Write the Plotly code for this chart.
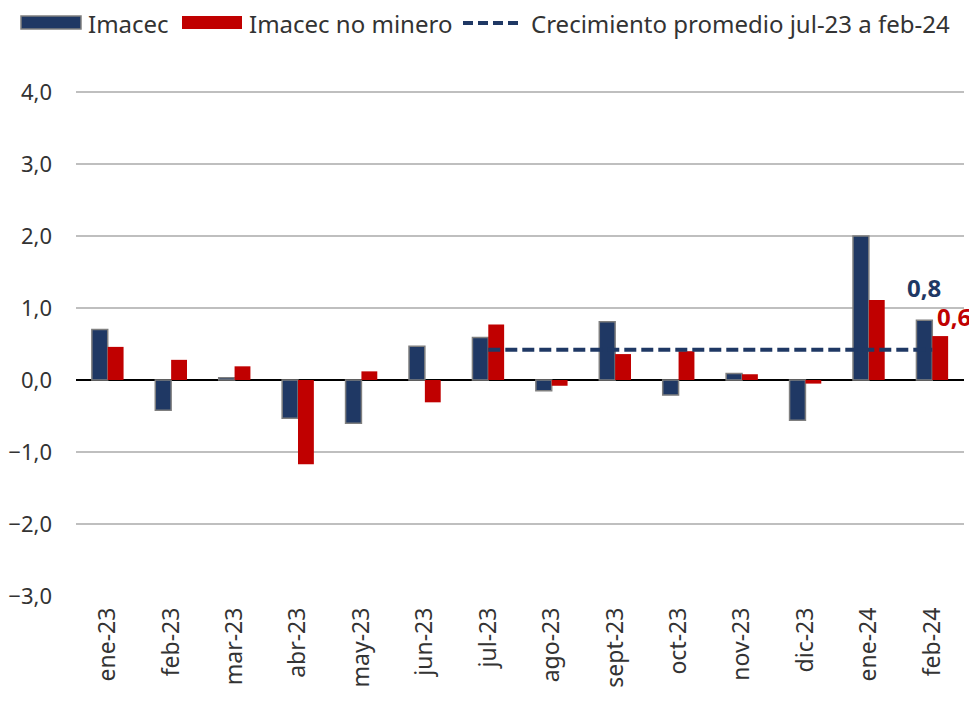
import plotly.graph_objects as go

categories = ["ene-23", "feb-23", "mar-23", "abr-23", "may-23", "jun-23", "jul-23",
              "ago-23", "sept-23", "oct-23", "nov-23", "dic-23", "ene-24", "feb-24"]
imacec = [0.70, -0.42, 0.03, -0.53, -0.60, 0.47, 0.59, -0.15, 0.81, -0.21, 0.09, -0.56, 2.00, 0.83]
imacec_no_minero = [0.46, 0.28, 0.19, -1.17, 0.12, -0.31, 0.77, -0.08, 0.36, 0.40, 0.08, -0.05, 1.11, 0.61]
avg_categories = ["jul-23", "ago-23", "sept-23", "oct-23", "nov-23", "dic-23", "ene-24", "feb-24"]
avg_values = [0.42, 0.42, 0.42, 0.42, 0.42, 0.42, 0.42, 0.42]
series_names = ["Imacec", "Imacec no minero", "Crecimiento promedio jul-23 a feb-24"]
y_ticks = [-3, -2, -1, 0, 1, 2, 3, 4]

NAVY = "#1F3864"
RED = "#C00000"
TEXT = "#333333"
FONT = "Noto Sans"

# the page body has an 8px margin; the figure sits at (8, 8)
OFF = 8
W, H = 977, 702
L, R, T, B = 68, 21, 48, 114
PW, PH = W - L - R, H - T - B


def px(xp):
    return (xp - OFF - L) / PW


def py(yp):
    return (H - B - (yp - OFF)) / PH


fig = go.Figure()
fig.add_trace(go.Bar(x=categories, y=imacec, name=series_names[0],
                     marker=dict(color=NAVY, line=dict(color="#7F7F7F", width=1.5))))
fig.add_trace(go.Bar(x=categories, y=imacec_no_minero, name=series_names[1],
                     marker=dict(color=RED, line=dict(width=0))))
fig.add_trace(go.Scatter(x=avg_categories, y=avg_values, mode="lines",
                         name=series_names[2],
                         line=dict(color=NAVY, width=4, dash="12px,5px")))

# value labels for the last month
fig.add_annotation(x=categories[-1], y=imacec[-1], xref="x", yref="y",
                   text=f"{imacec[-1]:.1f}".replace(".", ","), showarrow=False,
                   xshift=-8, yshift=33,
                   font=dict(family=FONT, size=24, color=NAVY, weight="bold"))
fig.add_annotation(x=categories[-1], y=imacec_no_minero[-1], xref="x", yref="y",
                   text=f"{imacec_no_minero[-1]:.1f}".replace(".", ","), showarrow=False,
                   xshift=22, yshift=20,
                   font=dict(family=FONT, size=24, color=RED, weight="bold"))

# legend drawn manually (wide swatches like the original)
shapes = [
    dict(type="rect", xref="paper", yref="paper", x0=px(21), x1=px(81), y0=py(29), y1=py(16),
         fillcolor=NAVY, line=dict(color="#7F7F7F", width=1.5)),
    dict(type="rect", xref="paper", yref="paper", x0=px(182), x1=px(242), y0=py(29), y1=py(16),
         fillcolor=RED, line=dict(width=0)),
    dict(type="line", xref="paper", yref="paper", x0=px(463), x1=px(522), y0=py(23), y1=py(23),
         line=dict(color=NAVY, width=4, dash="10px,5px")),
]
legend_text_x = [87, 248, 530]
for name, xp in zip(series_names, legend_text_x):
    fig.add_annotation(x=px(xp), y=py(24), xref="paper", yref="paper", xanchor="left",
                       yanchor="middle", text=name, showarrow=False, borderpad=0,
                       font=dict(family=FONT, size=24, color=TEXT))

fig.update_layout(
    width=W, height=H,
    margin=dict(l=L, r=R, t=T, b=B),
    paper_bgcolor="white", plot_bgcolor="white",
    separators=",.",
    barmode="group", bargap=0.5, bargroupgap=0,
    font=dict(family=FONT, size=20, color=TEXT),
    showlegend=False,
    shapes=shapes,
)

fig.update_xaxes(type="category", range=[-0.5, len(categories) - 0.5],
                 tickangle=-90, showgrid=False, showline=False,
                 ticks="", automargin=False, ticklabelstandoff=6,
                 tickfont=dict(family=FONT, size=23, color=TEXT))
fig.update_yaxes(range=[-3, 4.5], tickvals=y_ticks, tickformat=".1f",
                 showgrid=True, gridcolor="#BFBFBF", gridwidth=1.5,
                 zeroline=True, zerolinecolor="black", zerolinewidth=1.5,
                 showline=False, ticks="", automargin=False, ticklabelstandoff=23,
                 tickfont=dict(family=FONT, size=22, color=TEXT))

fig.write_html("out.html")
